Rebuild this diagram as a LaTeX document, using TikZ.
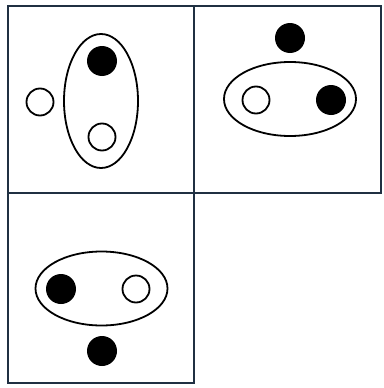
\documentclass[tikz,border=0pt]{standalone}
\definecolor{framecol}{RGB}{32,48,66}
\begin{document}
\begin{tikzpicture}[x=1pt,y=-1pt,
  frame/.style={draw=framecol, line width=2.5pt},
  ring/.style={draw=black, line width=1.8pt},
  wdot/.style={circle, draw=black, line width=1.8pt, fill=white, minimum size=27pt, inner sep=0pt},
  bdot/.style={circle, fill=black, minimum size=30pt, inner sep=0pt}]
\useasboundingbox (0,0) rectangle (383,388);
% frames
\draw[frame] (8,6) rectangle (194,193);
\draw[frame] (194,6) rectangle (381,193);
\draw[frame] (8,193) rectangle (194,383);
% panel 1
\draw[ring] (101,101) ellipse [x radius=37, y radius=67];
\node[bdot] (p1b) at (102,61) {};
\node[wdot] (p1w) at (102,137) {};
\node[wdot] (p1l) at (40,102) {};
% panel 2
\node[bdot] (p2t) at (290,38) {};
\draw[ring] (290,99) ellipse [x radius=66, y radius=37];
\node[wdot] (p2w) at (256,100) {};
\node[bdot] (p2b) at (331,100) {};
% panel 3
\draw[ring] (101.5,288.5) ellipse [x radius=66, y radius=37];
\node[bdot] (p3b) at (61,289) {};
\node[wdot] (p3w) at (136,289) {};
\node[bdot] (p3d) at (102,351) {};
\end{tikzpicture}
\end{document}
